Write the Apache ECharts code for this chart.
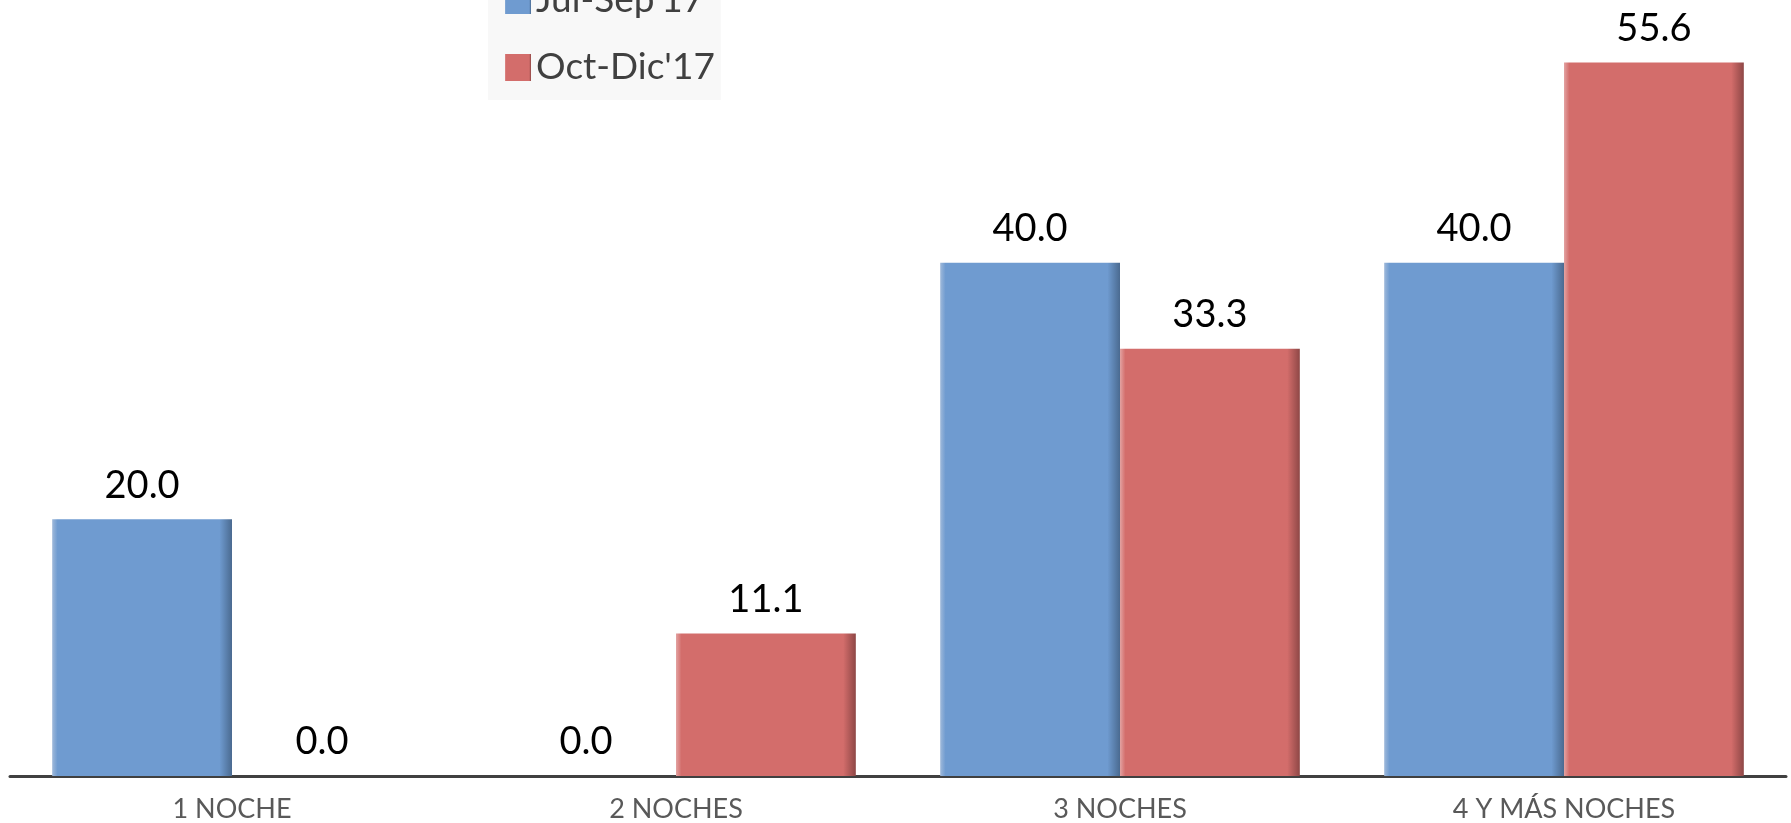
<!DOCTYPE html>
<html>
<head>
<meta charset="utf-8">
<script src="https://cdn.jsdelivr.net/npm/echarts@6/dist/echarts.min.js"></script>
<style>
  html, body { margin: 0; padding: 0; background: #fff; }
  #chart { width: 1791px; height: 823px; }
</style>
</head>
<body>
<div id="chart"></div>
<script>
// categorias y valores (%)
var categorias = ["1 NOCHE", "2 NOCHES", "3 NOCHES", "4 Y MÁS NOCHES"];
var series1Nombre = "Jul-Sep'17";
var series2Nombre = "Oct-Dic'17";
var julSep = [20.0, 0.0, 40.0, 40.0];
var octDic = [0.0, 11.1, 33.3, 55.6];

// relleno con borde biselado (claro izq., oscuro der.)
function bisel(claro, base, oscuro) {
  return new echarts.graphic.LinearGradient(0, 0, 1, 0, [
    { offset: 0, color: claro },
    { offset: 0.03, color: base },
    { offset: 0.93, color: base },
    { offset: 1, color: oscuro }
  ]);
}

var etiqueta = {
  show: true,
  position: "top",
  distance: 15,
  color: "#000",
  fontFamily: "Lato",
  fontSize: 38,
  formatter: function (p) { return p.value.toFixed(1); }
};

var chart = echarts.init(document.getElementById("chart"));
chart.setOption({
  animation: false,
  legend: {
    orient: "vertical",
    left: 488,
    top: -32,
    padding: [14, 6, 14, 17],
    backgroundColor: "#f8f8f8",
    itemWidth: 26,
    itemHeight: 27,
    itemGap: 30,
    icon: "rect",
    textStyle: { color: "#404040", fontFamily: "Lato", fontSize: 37 },
    data: [series1Nombre, series2Nombre]
  },
  grid: { left: 10, right: 5, top: 6, bottom: 47, containLabel: false },
  xAxis: {
    type: "category",
    data: categorias,
    axisLine: { lineStyle: { color: "#404040", width: 3 } },
    axisTick: { show: false },
    axisLabel: { color: "#595959", fontFamily: "Lato", fontSize: 27, margin: 20, interval: 0 }
  },
  yAxis: {
    type: "value",
    min: 0,
    max: 60,
    show: false,
    splitLine: { show: false }
  },
  series: [
    {
      name: series1Nombre,
      type: "bar",
      data: julSep,
      barGap: "0%",
      barCategoryGap: "19%",
      itemStyle: { color: bisel("#9fb9da", "#6f9bd0", "#4a6a90") },
      label: etiqueta
    },
    {
      name: series2Nombre,
      type: "bar",
      data: octDic,
      barGap: "0%",
      barCategoryGap: "19%",
      itemStyle: { color: bisel("#e3a3a2", "#d36d6b", "#8e4746") },
      label: etiqueta
    }
  ]
});
</script>
</body>
</html>
